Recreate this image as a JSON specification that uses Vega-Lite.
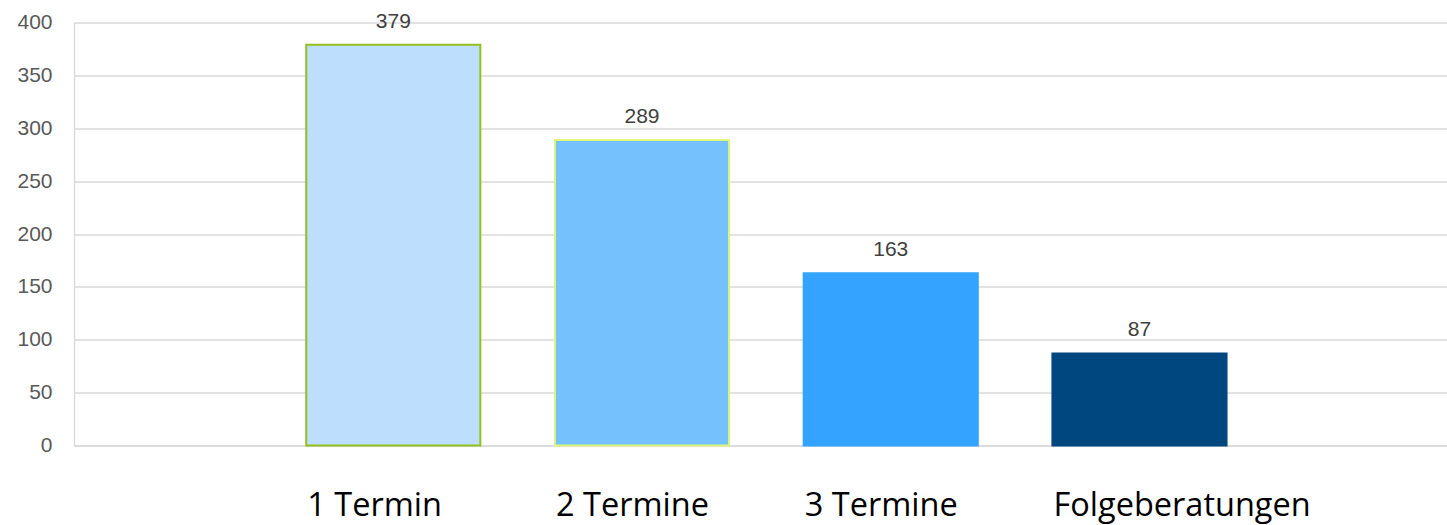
{
  "$schema": "https://vega.github.io/schema/vega-lite/v6.json",
  "autosize": {"type": "none"},
  "padding": {"left": 74, "top": 22.5, "right": 0, "bottom": 79.5},
  "width": 1373,
  "height": 423,
  "background": "white",
  "config": {"view": {"stroke": null}},
  "data": {"values": [
    {"kategorie": "1 Termin", "anzahl": 379},
    {"kategorie": "2 Termine", "anzahl": 289},
    {"kategorie": "3 Termine", "anzahl": 163},
    {"kategorie": "Folgeberatungen", "anzahl": 87}
  ]},
  "encoding": {
    "x": {
      "field": "kategorie", "type": "nominal", "sort": null,
      "scale": {"paddingInner": 0.3, "paddingOuter": 0.91, "align": 0.513},
      "axis": {
        "title": null, "labelAngle": 0, "ticks": false, "tickSize": 0,
        "labelPadding": 70, "labelBaseline": "alphabetic", "labelLimit": 0,
        "labelAlign": "left", "labelOffset": -86,
        "labelFont": "Open Sans", "labelFontSize": 32.5, "labelColor": "#000000",
        "domainColor": "#d9d9d9", "domainWidth": 1.3, "grid": false
      }
    },
    "y": {
      "field": "anzahl", "type": "quantitative",
      "scale": {"domain": [0, 400], "nice": false},
      "axis": {
        "title": null, "values": [0, 50, 100, 150, 200, 250, 300, 350, 400],
        "ticks": false, "tickSize": 0, "labelPadding": 22,
        "labelFont": "Liberation Sans", "labelFontSize": 21, "labelColor": "#595959",
        "domainColor": "#d9d9d9", "domainWidth": 1.3,
        "gridColor": "#d9d9d9", "gridWidth": 1.3
      }
    }
  },
  "layer": [
    {
      "mark": {"type": "bar", "strokeWidth": 2},
      "encoding": {
        "color": {
          "field": "kategorie", "type": "nominal", "legend": null,
          "scale": {"domain": ["1 Termin", "2 Termine", "3 Termine", "Folgeberatungen"],
                    "range": ["#BDDFFD", "#75C1FD", "#33A3FF", "#00467F"]}
        },
        "stroke": {
          "field": "kategorie", "type": "nominal", "legend": null,
          "scale": {"domain": ["1 Termin", "2 Termine", "3 Termine", "Folgeberatungen"],
                    "range": ["#92C01F", "#DDF57A", "#33A3FF", "#00467F"]}
        }
      }
    },
    {
      "mark": {"type": "text", "baseline": "alphabetic", "dy": -17, "font": "Liberation Sans", "fontSize": 21, "color": "#404040"},
      "encoding": {"text": {"field": "anzahl", "type": "quantitative"}}
    }
  ]
}
